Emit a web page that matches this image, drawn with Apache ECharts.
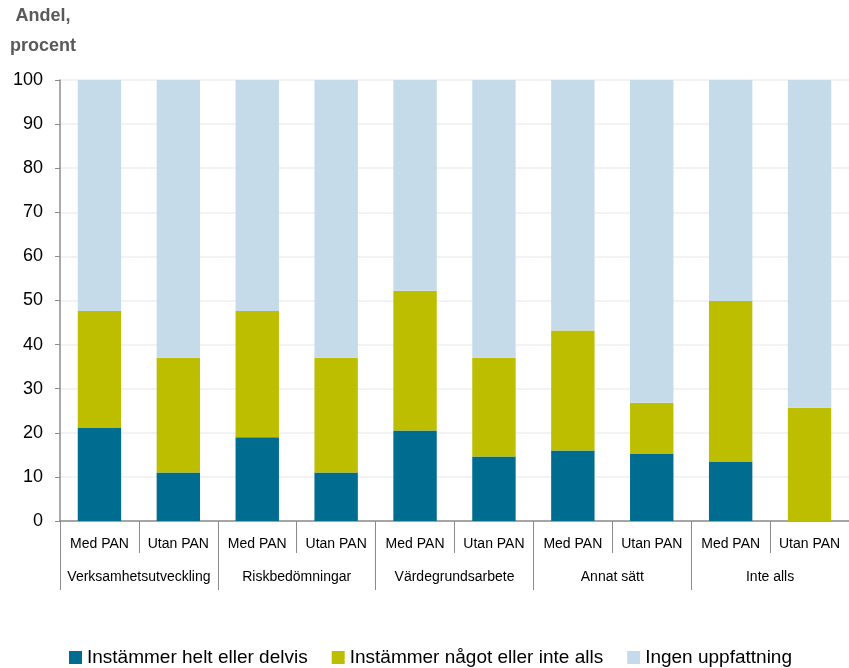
<!DOCTYPE html>
<html>
<head>
<meta charset="utf-8">
<script src="https://cdn.jsdelivr.net/npm/echarts@6/dist/echarts.min.js"></script>
<style>
	html, body { margin: 0; padding: 0; background: #fff; }
	#chart { width: 849px; height: 668px; }
</style>
</head>
<body>
<div id="chart"></div>
<script>
//kategorier
const groups = ['Verksamhetsutveckling', 'Riskbedömningar', 'Värdegrundsarbete', 'Annat sätt', 'Inte alls'];
const bars = ['Med PAN', 'Utan PAN', 'Med PAN', 'Utan PAN', 'Med PAN', 'Utan PAN', 'Med PAN', 'Utan PAN', 'Med PAN', 'Utan PAN'];
const yTicks = [0, 10, 20, 30, 40, 50, 60, 70, 80, 90, 100];

//andel, procent
const helt = [21.1, 11.0, 19.0, 11.0, 20.5, 14.6, 16.0, 15.3, 13.5, 0];
const nagot = [26.5, 26.0, 28.6, 26.0, 31.7, 22.4, 27.2, 11.5, 36.4, 25.7];
const ingen = [52.4, 63.0, 52.4, 63.0, 47.8, 63.0, 56.8, 73.2, 50.1, 74.3];

const seriesNames = ['Instämmer helt eller delvis', 'Instämmer något eller inte alls', 'Ingen uppfattning'];
const colors = ['#006C8F', '#BDBE00', '#C5DBEA'];

const font = "'Liberation Sans', Arial, sans-serif";

const chart = echarts.init(document.getElementById('chart'));

const makeSeries = function (idx, data) {
	return {
		name: seriesNames[idx],
		type: 'bar',
		stack: 'total',
		barWidth: '55%',
		xAxisIndex: 0,
		itemStyle: { color: colors[idx] },
		data: data
	};
};

const options = {
	animation: false,
	backgroundColor: '#fff',
	textStyle: { fontFamily: font },
	graphic: [{
		type: 'text',
		x: 43,
		y: 7,
		style: {
			text: 'Andel,',
			font: 'bold 18px ' + font,
			fill: '#595959',
			align: 'center',
			verticalAlign: 'top'
		}
	}, {
		type: 'text',
		x: 43,
		y: 37,
		style: {
			text: 'procent',
			font: 'bold 18px ' + font,
			fill: '#595959',
			align: 'center',
			verticalAlign: 'top'
		}
	}],
	legend: {
		top: 643,
		left: 64,
		icon: 'rect',
		itemWidth: 13,
		itemHeight: 13,
		itemGap: 24,
		data: seriesNames,
		textStyle: { fontSize: 19, color: '#000', fontFamily: font }
	},
	grid: {
		left: 60,
		right: -1,
		top: 80,
		bottom: 147,
		containLabel: false
	},
	xAxis: [{
		type: 'category',
		data: bars,
		position: 'bottom',
		axisLine: { lineStyle: { color: '#8c8c8c', width: 1.5 } },
		axisTick: { show: true, interval: 0, length: 32, lineStyle: { color: '#8c8c8c' } },
		axisLabel: { interval: 0, margin: 16, fontSize: 14, color: '#000' },
		splitLine: { show: false }
	}, {
		type: 'category',
		data: groups,
		position: 'bottom',
		axisLine: { show: false },
		axisTick: { show: true, interval: 0, length: 69, lineStyle: { color: '#8c8c8c' } },
		axisLabel: { interval: 0, margin: 49, fontSize: 14, color: '#000' },
		splitLine: { show: false }
	}],
	yAxis: {
		type: 'value',
		min: 0,
		max: 100,
		interval: 10,
		axisLine: { show: true, lineStyle: { color: '#8c8c8c', width: 1.5 } },
		axisTick: { show: true, inside: false, length: 5, lineStyle: { color: '#8c8c8c' } },
		axisLabel: {
			margin: 17,
			fontSize: 18,
			color: '#000',
			formatter: function (v) {
				return yTicks.indexOf(v) >= 0 ? String(v) : '';
			}
		},
		splitLine: { show: true, lineStyle: { color: '#efefef', width: 1.5 } }
	},
	series: [
		makeSeries(0, helt),
		makeSeries(1, nagot),
		makeSeries(2, ingen)
	]
};

chart.setOption(options);
</script>
</body>
</html>
